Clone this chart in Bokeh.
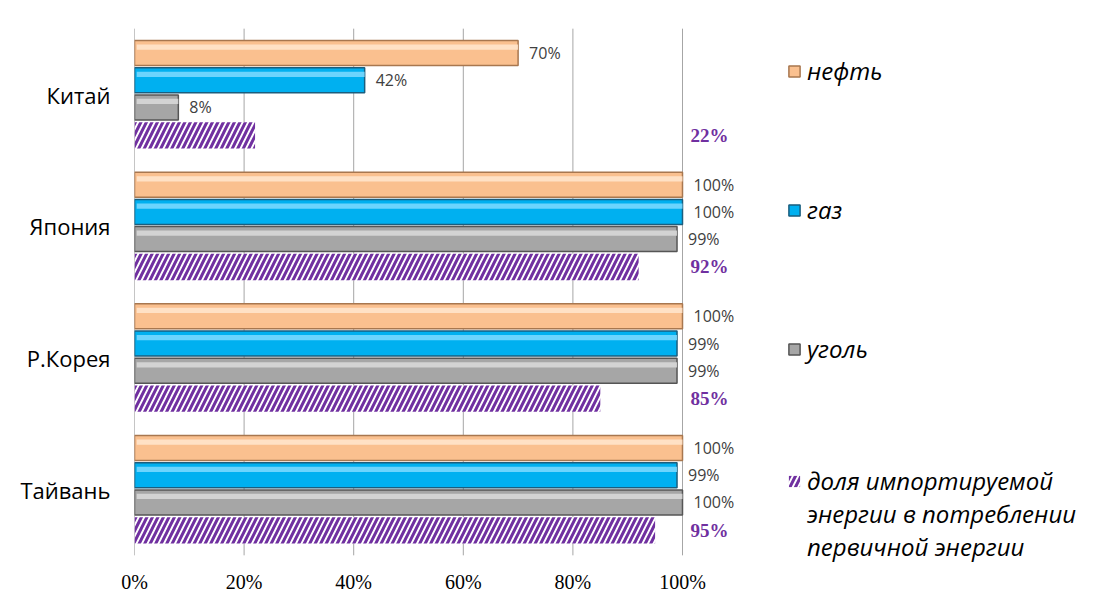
from bokeh.plotting import figure
from bokeh.models import ColumnDataSource, Range1d, FactorRange, FixedTicker, Legend, LegendItem
from bokeh.transform import dodge
from bokeh.core.properties import value
from bokeh.embed import file_html
from bokeh.resources import INLINE

countries = ["Китай", "Япония", "Р.Корея", "Тайвань"]
neft = [70, 100, 100, 100]
gaz = [42, 100, 99, 99]
ugol = [8, 99, 99, 100]
imports = [22, 92, 85, 95]
series_names = ["нефть", "газ", "уголь"]
import_name_lines = ["доля импортируемой", "энергии в потреблении", "первичной энергии"]
x_ticks = [0, 20, 40, 60, 80, 100]
x_tick_labels = ["0%", "20%", "40%", "60%", "80%", "100%"]
X_MAX = 100

src = ColumnDataSource(dict(
    country=countries, neft=neft, gaz=gaz, ugol=ugol, imp=imports,
    neft_l=[f"{v}%" for v in neft], gaz_l=[f"{v}%" for v in gaz],
    ugol_l=[f"{v}%" for v in ugol], imp_l=[f"{v}%" for v in imports],
))
grid_src = ColumnDataSource(dict(x=x_ticks, y0=[0] * len(x_ticks),
                                 y1=[len(countries)] * len(x_ticks),
                                 c=["#8C8C8C"] + ["#A6A6A6"] * (len(x_ticks) - 1)))

p = figure(frame_width=966, frame_height=553,
           min_border_left=134, min_border_right=6,
           min_border_top=15, min_border_bottom=28,
           x_range=Range1d(0, 966 * 100 / 548),
           y_range=FactorRange(factors=countries[::-1], range_padding=0.1,
                               range_padding_units="absolute"),
           output_backend="svg", toolbar_location=None)
p.outline_line_color = None
p.background_fill_color = "white"

# axes
p.xaxis.ticker = FixedTicker(ticks=x_ticks)
p.xaxis.major_label_overrides = {t: l for t, l in zip(x_ticks, x_tick_labels)}
p.xaxis.axis_line_color = None
p.xaxis.major_tick_line_color = None
p.xaxis.minor_tick_line_color = None
p.xaxis.major_tick_out = 0
p.xaxis.major_label_standoff = 2
p.xaxis.major_label_text_font = "Liberation Serif"
p.xaxis.major_label_text_font_size = "20px"
p.xaxis.major_label_text_color = "#000000"

p.yaxis.axis_line_color = None
p.yaxis.major_tick_line_color = None
p.yaxis.minor_tick_line_color = None
p.yaxis.major_tick_out = 0
p.yaxis.major_label_standoff = 24
p.yaxis.major_label_text_font = "Open Sans"
p.yaxis.major_label_text_font_size = "22px"
p.yaxis.major_label_text_color = "#000000"

p.xgrid.grid_line_color = None
p.ygrid.grid_line_color = None
# vertical gridlines limited to the category span
p.segment(x0="x", x1="x", y0="y0", y1="y1", source=grid_src,
          line_color="c", line_width=1)

offs = [0.315, 0.108, -0.098, -0.31]
H = 0.19
styles = [
    ("neft", "#FAC08F", "#A8774F", "#FFE6CF"),
    ("gaz", "#00B0F0", "#1B5E7E", "#7FDBFF"),
    ("ugol", "#A6A6A6", "#555555", "#DADADA"),
]
renderers = []
for (col, body, edge, hi), off in zip(styles, offs):
    r = p.hbar(y=dodge("country", off, range=p.y_range), left=0, right=col, height=H,
               source=src, fill_color=body, line_color=edge, line_width=1.5)
    renderers.append(r)
    p.hbar(y=dodge("country", off + 0.045, range=p.y_range), left=0.4, right=col,
           height=0.04, source=src, fill_color=hi, line_color=None, fill_alpha=0.85)
    p.text(x=col, y=dodge("country", off, range=p.y_range), text=col + "_l", source=src,
           x_offset=11, text_baseline="middle", text_align="left",
           text_font=value("Open Sans"), text_font_size="16px", text_color="#404040")

r_imp = p.hbar(y=dodge("country", offs[3], range=p.y_range), left=0, right="imp",
               height=0.2, source=src, fill_color="white", line_color=None,
               hatch_pattern="/", hatch_color="#7030A0", hatch_scale=11, hatch_weight=3)
# transparent twin, used only to carry the continuation lines of the legend label
r_blank = p.hbar(y=dodge("country", offs[3], range=p.y_range), left=0, right="imp",
                 height=0.2, source=src, fill_alpha=0, line_alpha=0)
p.text(x=X_MAX, y=dodge("country", offs[3], range=p.y_range), text="imp_l", source=src,
       x_offset=8, text_baseline="middle", text_align="left",
       text_font=value("Liberation Serif"), text_font_style="bold",
       text_font_size="19px", text_color="#7030A0")

common = dict(orientation="vertical", glyph_width=14, glyph_height=14, label_standoff=6,
              padding=0, label_text_font="Open Sans", label_text_font_style="italic",
              label_text_font_size="24px", label_text_color="#000000",
              border_line_alpha=0, background_fill_alpha=0)
legend_a = Legend(items=[LegendItem(label=n, renderers=[r]) for n, r in zip(series_names, renderers)],
                  location=(653, 203), spacing=106, **common)
legend_b = Legend(items=[LegendItem(label=import_name_lines[0], renderers=[r_imp])] +
                  [LegendItem(label=t, renderers=[r_blank]) for t in import_name_lines[1:]],
                  location=(653, 5), spacing=0, **common)
p.add_layout(legend_a)
p.add_layout(legend_b)

open("out.html", "w").write(file_html(p, INLINE))
